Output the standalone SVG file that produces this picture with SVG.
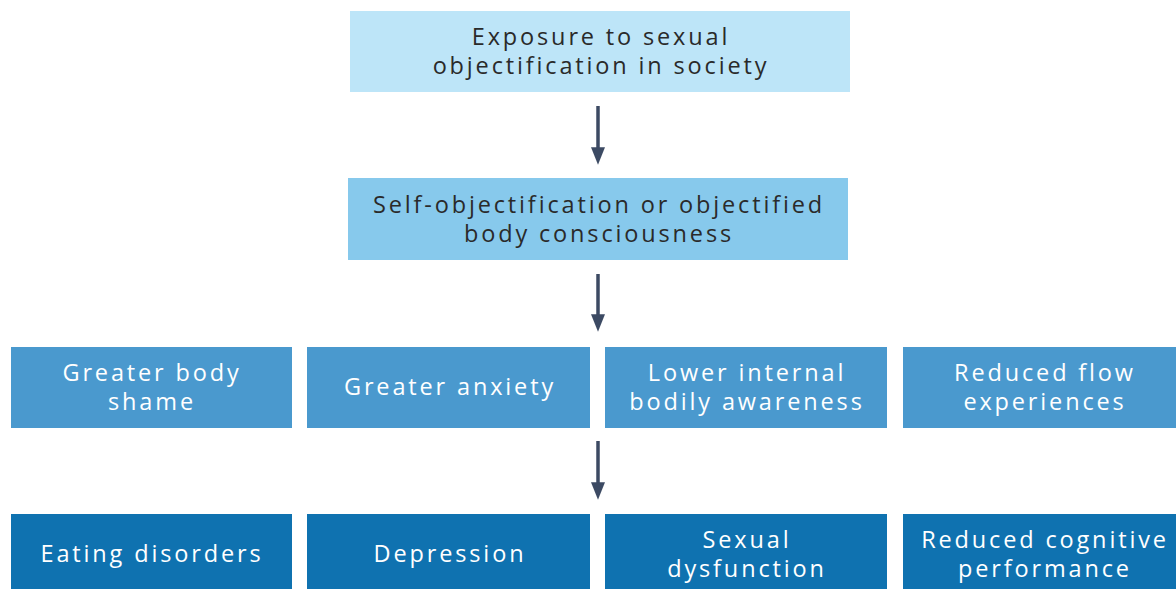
<svg xmlns="http://www.w3.org/2000/svg" width="1176" height="589" viewBox="0 0 1176 589">
<defs>
<style>
.t{font-family:"Open Sans","Liberation Sans",Arial,sans-serif;font-size:23.5px;letter-spacing:2.85px;text-anchor:middle}
.d{fill:#2a2a2a}
.w{fill:#ffffff}
.c1{fill:#bde5f8}
.c2{fill:#87c9ec}
.c3{fill:#4a99ce}
.c4{fill:#0f72b0}
.ln{stroke:#3c4a63;stroke-width:3.5;fill:none}
</style>
<marker id="ah" markerWidth="5" markerHeight="5" refX="2.5" refY="2.5" orient="auto" markerUnits="strokeWidth" viewBox="0 0 5 5">
<path d="M0,0.5 L5,2.5 L0,4.5 Z" fill="#3c4a63"/>
</marker>
</defs>
<rect width="1176" height="589" fill="#ffffff"/>
<g id="connectors">
<line class="ln" x1="598" y1="106" x2="598" y2="156" marker-end="url(#ah)"/>
<line class="ln" x1="598" y1="274" x2="598" y2="323" marker-end="url(#ah)"/>
<line class="ln" x1="598" y1="441" x2="598" y2="491" marker-end="url(#ah)"/>
</g>
<g id="n1"><rect class="c1" x="350" y="11" width="500" height="81"/>
<text class="t d" x="601" y="45">Exposure to sexual</text><text class="t d" x="601" y="74">objectification in society</text></g>
<g id="n2"><rect class="c2" x="348" y="178" width="500" height="82"/>
<text class="t d" x="599" y="213">Self-objectification or objectified</text><text class="t d" x="599" y="242">body consciousness</text></g>
<g id="n3a"><rect class="c3" x="11" y="347" width="281" height="81"/>
<text class="t w" x="152" y="381">Greater body</text><text class="t w" x="152" y="410">shame</text></g>
<g id="n3b"><rect class="c3" x="307" y="347" width="283" height="81"/>
<text class="t w" x="450" y="395">Greater anxiety</text></g>
<g id="n3c"><rect class="c3" x="605" y="347" width="282" height="81"/>
<text class="t w" x="747" y="381">Lower internal</text><text class="t w" x="747" y="410">bodily awareness</text></g>
<g id="n3d"><rect class="c3" x="903" y="347" width="273" height="81"/>
<text class="t w" x="1045" y="381">Reduced flow</text><text class="t w" x="1045" y="410">experiences</text></g>
<g id="n4a"><rect class="c4" x="11" y="514" width="281" height="75"/>
<text class="t w" x="152" y="562">Eating disorders</text></g>
<g id="n4b"><rect class="c4" x="307" y="514" width="283" height="75"/>
<text class="t w" x="450" y="562">Depression</text></g>
<g id="n4c"><rect class="c4" x="605" y="514" width="282" height="75"/>
<text class="t w" x="747" y="548">Sexual</text><text class="t w" x="747" y="577">dysfunction</text></g>
<g id="n4d"><rect class="c4" x="903" y="514" width="273" height="75"/>
<text class="t w" x="1045" y="548">Reduced cognitive</text><text class="t w" x="1045" y="577">performance</text></g>
</svg>
